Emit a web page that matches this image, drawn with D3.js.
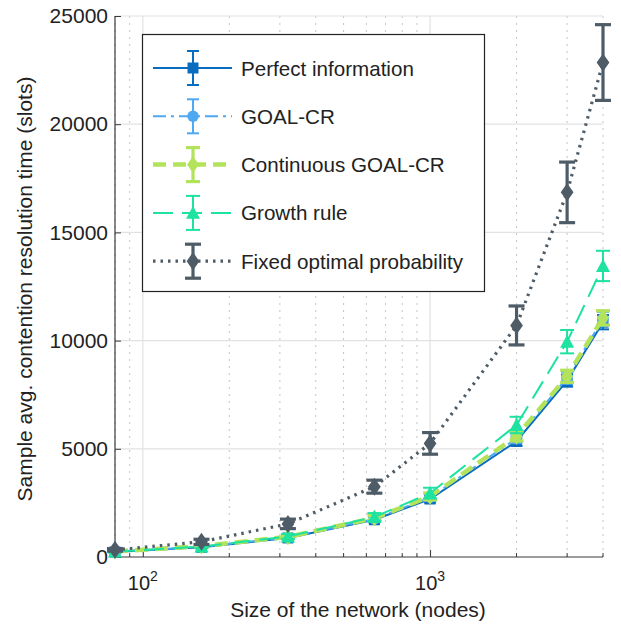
<!DOCTYPE html>
<html>
<head>
<meta charset="utf-8">
<script src="https://cdn.jsdelivr.net/npm/d3@7"></script>
<style>
  body { margin: 0; background: #fff; }
  text { font-family: "Liberation Sans", Arial, sans-serif; fill: #222; }
</style>
</head>
<body>
<script>
const nodes = [80, 160, 320, 640, 1000, 2000, 3000, 4000];

const seriesNames = ['Perfect information', 'GOAL-CR', 'Continuous GOAL-CR', 'Growth rule', 'Fixed optimal probability'];
const perfectMean = [230, 450, 880, 1720, 2680, 5350, 8150, 10850];
const perfectErr = [30, 50, 80, 120, 160, 220, 280, 330];
const goalMean = [240, 470, 900, 1760, 2750, 5480, 8280, 11000];
const goalErr = [30, 50, 80, 120, 160, 220, 280, 330];
const contMean = [260, 500, 930, 1800, 2800, 5580, 8350, 11050];
const contErr = [30, 50, 80, 120, 160, 220, 280, 330];
const growthMean = [250, 480, 950, 1850, 2950, 6100, 9950, 13450];
const growthErr = [40, 70, 110, 180, 250, 380, 540, 700];
const fixedMean = [330, 700, 1530, 3250, 5250, 10700, 16850, 22850];
const fixedErr = [60, 120, 220, 300, 500, 900, 1400, 1750];

const xTicks = [100, 1000];
const yTicks = [0, 5000, 10000, 15000, 20000, 25000];

const W = 621, H = 624;
const m = { left: 115, right: 603, top: 16, bottom: 557 };
const fs = 21;

const svg = d3.select('body').append('svg').attr('width', W).attr('height', H);

const x = d3.scaleLog().domain([80, 4000]).range([m.left, m.right]);
const y = d3.scaleLinear().domain([0, 25000]).range([m.bottom, m.top]);

// minor grid (dotted)
const minor = [];
for (let d = 10; d <= 1000; d *= 10) {
  for (let k = 2; k <= 9; k++) {
    const v = k * d;
    if (v >= 80 && v <= 4000 && xTicks.indexOf(v) < 0) minor.push(v);
  }
}
svg.append('g').selectAll('line').data(minor).enter().append('line')
  .attr('x1', (d) => x(d)).attr('x2', (d) => x(d))
  .attr('y1', m.top).attr('y2', m.bottom)
  .attr('stroke', '#c4c4c4').attr('stroke-width', 1).attr('stroke-dasharray', '2,5');

// major grid
svg.append('g').selectAll('line').data(xTicks).enter().append('line')
  .attr('x1', (d) => x(d)).attr('x2', (d) => x(d))
  .attr('y1', m.top).attr('y2', m.bottom)
  .attr('stroke', '#e2e2e2').attr('stroke-width', 1.2);
svg.append('g').selectAll('line').data(yTicks.slice(1)).enter().append('line')
  .attr('x1', m.left).attr('x2', m.right)
  .attr('y1', (d) => y(d)).attr('y2', (d) => y(d))
  .attr('stroke', '#e2e2e2').attr('stroke-width', 1.2);

// axes
const axisColor = '#3a3a3a';
const xAxis = d3.axisBottom(x).tickValues(xTicks).tickSize(-7).tickFormat('');
const gx = svg.append('g').attr('transform', 'translate(0,' + m.bottom + ')').call(xAxis);
gx.select('.domain').remove();
gx.selectAll('line').attr('stroke', axisColor);
svg.append('g').attr('transform', 'translate(0,' + m.bottom + ')')
  .selectAll('line').data(minor).enter().append('line')
  .attr('x1', (d) => x(d)).attr('x2', (d) => x(d))
  .attr('y1', 0).attr('y2', -4).attr('stroke', axisColor);
svg.append('line').attr('x1', m.left).attr('x2', m.right)
  .attr('y1', m.bottom).attr('y2', m.bottom).attr('stroke', axisColor).attr('stroke-width', 1.2);

const yAxis = d3.axisLeft(y).tickValues(yTicks).tickSize(-6).tickPadding(7).tickFormat(d3.format('d'));
const gy = svg.append('g').attr('transform', 'translate(' + m.left + ',0)').call(yAxis);
gy.select('.domain').remove();
gy.selectAll('line').attr('stroke', axisColor);
gy.selectAll('text').attr('font-size', fs).style('font-family', '"Liberation Sans", Arial, sans-serif').attr('fill', '#222');
svg.append('line').attr('x1', m.left).attr('x2', m.left)
  .attr('y1', m.top).attr('y2', m.bottom).attr('stroke', axisColor).attr('stroke-width', 1.2);

// x tick labels 10^n
xTicks.forEach((v) => {
  const t = svg.append('text').attr('x', x(v)).attr('y', 590)
    .attr('text-anchor', 'middle').attr('font-size', 20);
  t.append('tspan').text('10');
  t.append('tspan').attr('dy', -9).attr('font-size', 14).text(String(Math.round(Math.log10(v))));
});

svg.append('text').attr('x', 358).attr('y', 617).attr('text-anchor', 'middle')
  .attr('font-size', fs).text('Size of the network (nodes)');
svg.append('text').attr('transform', 'translate(32,' + 289 + ') rotate(-90)')
  .attr('text-anchor', 'middle').attr('font-size', fs)
  .text('Sample avg. contention resolution time (slots)');

// series
const series = [
  { name: seriesNames[0], mean: perfectMean, err: perfectErr, color: '#0a6cbe', width: 2, dash: null, marker: 'square', size: 11, cap: 12 },
  { name: seriesNames[1], mean: goalMean, err: goalErr, color: '#4ea8f2', width: 2, dash: '13,5,3,5', marker: 'circle', size: 12, cap: 12 },
  { name: seriesNames[2], mean: contMean, err: contErr, color: '#b3e35a', width: 4.5, dash: '13,7', marker: 'diamond', size: 14, cap: 14 },
  { name: seriesNames[3], mean: growthMean, err: growthErr, color: '#1de2a0', width: 2, dash: '20,9', marker: 'triangle', size: 14, cap: 14 },
  { name: seriesNames[4], mean: fixedMean, err: fixedErr, color: '#4e5c67', width: 3.2, dash: '2.5,5', marker: 'diamond', size: 15, cap: 16 }
];

function markerPath(type, s) {
  const h = s / 2;
  if (type === 'square') return 'M' + (-h) + ',' + (-h) + 'h' + s + 'v' + s + 'h' + (-s) + 'Z';
  if (type === 'diamond') return 'M0,' + (-h * 1.2) + 'L' + (h * 0.85) + ',0L0,' + (h * 1.2) + 'L' + (-h * 0.85) + ',0Z';
  if (type === 'triangle') return 'M0,' + (-h) + 'L' + h + ',' + (h * 0.85) + 'L' + (-h) + ',' + (h * 0.85) + 'Z';
  return d3.symbol(d3.symbolCircle, s * s * 0.72)();
}

const lineGen = d3.line().x((d) => x(d[0])).y((d) => y(d[1]));

series.forEach((s) => {
  const g = svg.append('g');
  const pts = nodes.map((n, i) => [n, s.mean[i], s.err[i]]);
  g.append('path').attr('d', lineGen(pts)).attr('fill', 'none')
    .attr('stroke', s.color).attr('stroke-width', s.width)
    .attr('stroke-dasharray', s.dash);
  const eb = g.selectAll('.eb').data(pts).enter().append('g');
  const ew = s.width > 3 ? 3.2 : 2;
  eb.append('line').attr('x1', (d) => x(d[0])).attr('x2', (d) => x(d[0]))
    .attr('y1', (d) => y(d[1] - d[2])).attr('y2', (d) => y(d[1] + d[2]))
    .attr('stroke', s.color).attr('stroke-width', ew);
  [-1, 1].forEach((sg) => {
    eb.append('line').attr('x1', (d) => x(d[0]) - s.cap / 2).attr('x2', (d) => x(d[0]) + s.cap / 2)
      .attr('y1', (d) => y(d[1] + sg * d[2])).attr('y2', (d) => y(d[1] + sg * d[2]))
      .attr('stroke', s.color).attr('stroke-width', ew);
  });
  eb.append('path').attr('d', markerPath(s.marker, s.size))
    .attr('transform', (d) => 'translate(' + x(d[0]) + ',' + y(d[1]) + ')')
    .attr('fill', s.color);
});

// legend
const lg = svg.append('g');
lg.append('rect').attr('x', 142.5).attr('y', 34.5).attr('width', 342).attr('height', 257)
  .attr('fill', '#fff').attr('stroke', '#222').attr('stroke-width', 1.2);
series.forEach((s, i) => {
  const cy = 68 + i * 48.3;
  const ew = s.width > 3 ? 3.2 : 2;
  lg.append('line').attr('x1', 153).attr('x2', 232).attr('y1', cy).attr('y2', cy)
    .attr('stroke', s.color).attr('stroke-width', s.width).attr('stroke-dasharray', s.dash);
  lg.append('line').attr('x1', 193).attr('x2', 193).attr('y1', cy - 17).attr('y2', cy + 17)
    .attr('stroke', s.color).attr('stroke-width', ew);
  [-17, 17].forEach((o) => {
    lg.append('line').attr('x1', 193 - s.cap / 2).attr('x2', 193 + s.cap / 2)
      .attr('y1', cy + o).attr('y2', cy + o).attr('stroke', s.color).attr('stroke-width', ew);
  });
  lg.append('path').attr('d', markerPath(s.marker, s.size))
    .attr('transform', 'translate(193,' + cy + ')').attr('fill', s.color);
  lg.append('text').attr('x', 241).attr('y', cy + 7.5).attr('font-size', 20.6).text(s.name);
});
</script>
</body>
</html>
